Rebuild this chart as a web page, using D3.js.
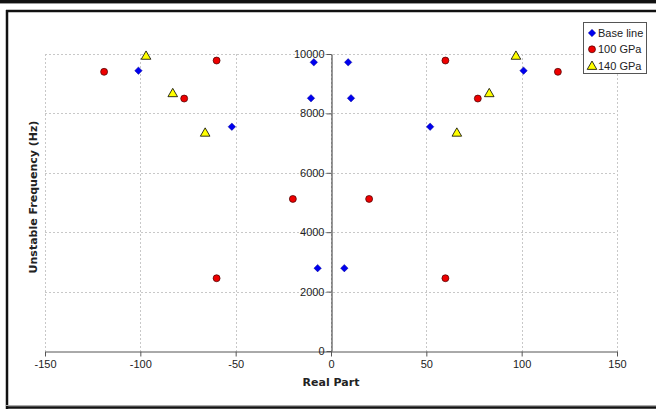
<!DOCTYPE html>
<html><head><meta charset="utf-8">
<script src="https://cdn.jsdelivr.net/npm/d3@7"></script>
<style>body{margin:0;background:#fff}svg{display:block}</style>
</head><body>
<script>
const baseX = [-101, -52, -9, -10.5, 9, 10.5, 52, 101, -7, 7];
const baseY = [9440, 7550, 9720, 8510, 9720, 8510, 7550, 9440, 2790, 2790];
const gpa100X = [-119, -60, -77, -20, 20, 60, 77, 119, -60, 60];
const gpa100Y = [9400, 9780, 8500, 5120, 5120, 9780, 8500, 9400, 2450, 2450];
const gpa140X = [-97, -83, -66, 66, 83, 97];
const gpa140Y = [9950, 8690, 7360, 7360, 8690, 9950];
const xTicks = [-150, -100, -50, 0, 50, 100, 150];
const yTicks = [0, 2000, 4000, 6000, 8000, 10000];
const seriesNames = ["Base line", "100 GPa", "140 GPa"];

const W = 656, H = 410;
const svg = d3.select("body").append("svg").attr("width", W).attr("height", H);

// frame
svg.append("rect").attr("x",0).attr("y",0).attr("width",W).attr("height",3).attr("fill","#111");
svg.append("line").attr("x1",0).attr("x2",W).attr("y1",3.5).attr("y2",3.5).attr("stroke","#999");
svg.append("line").attr("x1",6).attr("x2",W).attr("y1",11).attr("y2",11).attr("stroke","#111").attr("stroke-width",2.5);
svg.append("line").attr("x1",7).attr("x2",7).attr("y1",10).attr("y2",409).attr("stroke","#111").attr("stroke-width",2.5);
svg.append("line").attr("x1",6).attr("x2",W).attr("y1",407.5).attr("y2",407.5).attr("stroke","#111").attr("stroke-width",2.5);
svg.append("line").attr("x1",6).attr("x2",W).attr("y1",405.5).attr("y2",405.5).attr("stroke","#aaa").attr("stroke-width",1);

const x = d3.scaleLinear().domain([-150,150]).range([45,617]);
const y = d3.scaleLinear().domain([0,10000]).range([351,54]);
const fmt = d => String(d);

// grid
const g = svg.append("g");
g.selectAll(".vg").data(xTicks).join("line")
  .attr("x1",d=>Math.round(x(d))+0.5).attr("x2",d=>Math.round(x(d))+0.5)
  .attr("y1",y(10000)).attr("y2",y(0))
  .attr("stroke","#c8c8c8").attr("stroke-dasharray","2,2");
g.selectAll(".hg").data(yTicks.filter(d=>d>0)).join("line")
  .attr("y1",d=>Math.round(y(d))+0.5).attr("y2",d=>Math.round(y(d))+0.5)
  .attr("x1",x(-150)).attr("x2",x(150))
  .attr("stroke","#c8c8c8").attr("stroke-dasharray","2,2");

// axes
const xAxis = svg.append("g").attr("transform",`translate(0,${Math.round(y(0))+0.5})`)
  .call(d3.axisBottom(x).tickValues(xTicks).tickFormat(fmt).tickSize(5).tickSizeOuter(0).tickPadding(4));
const yAxis = svg.append("g").attr("transform",`translate(${Math.round(x(0))+0.5},0)`)
  .call(d3.axisLeft(y).tickValues(yTicks).tickFormat(fmt).tickSize(5).tickSizeOuter(0).tickPadding(2));
[xAxis,yAxis].forEach(a=>{
  a.selectAll("path,line").attr("stroke","#555");
  a.selectAll("text").attr("fill","#222").style("font-family","Liberation Sans, Arial, sans-serif").style("font-size","11px");
});
yAxis.select(".domain").attr("stroke","#333");

// titles
svg.append("text").attr("x",331).attr("y",386).attr("text-anchor","middle")
  .style("font-family","DejaVu Sans, Verdana, sans-serif").style("font-size","11px").style("font-weight","bold")
  .attr("fill","#222").text("Real Part");
svg.append("text").attr("transform","translate(37,197) rotate(-90)").attr("text-anchor","middle")
  .style("font-family","DejaVu Sans, Verdana, sans-serif").style("font-size","11px").style("font-weight","bold")
  .attr("fill","#222").text("Unstable Frequency (Hz)");

const diamond = d3.symbol().type(d3.symbolDiamond2).size(36);
const circle = d3.symbol().type(d3.symbolCircle).size(38);
const tri = d3.symbol().type(d3.symbolTriangle).size(40);

const plot = svg.append("g");
plot.selectAll(".b").data(d3.zip(baseX, baseY)).join("path")
  .attr("transform",d=>`translate(${x(d[0])},${y(d[1])})`).attr("d",diamond)
  .attr("fill","#0000ee").attr("stroke","#000080").attr("stroke-width",0.4);
plot.selectAll(".r").data(d3.zip(gpa100X, gpa100Y)).join("path")
  .attr("transform",d=>`translate(${x(d[0])},${y(d[1])})`).attr("d",circle)
  .attr("fill","#ee0000").attr("stroke","#400000").attr("stroke-width",0.7);
plot.selectAll(".t").data(d3.zip(gpa140X, gpa140Y)).join("path")
  .attr("transform",d=>`translate(${x(d[0])},${y(d[1])+1})`).attr("d",tri)
  .attr("fill","#ffff00").attr("stroke","#000").attr("stroke-width",0.8);

// legend
const lg = svg.append("g");
lg.append("rect").attr("x",583.5).attr("y",22.5).attr("width",63).attr("height",51)
  .attr("fill","#fff").attr("stroke","#555");
const syms = [
  {d:diamond, fill:"#0000ee", stroke:"#000080", sw:0.4},
  {d:circle, fill:"#ee0000", stroke:"#400000", sw:0.7},
  {d:tri, fill:"#ffff00", stroke:"#000", sw:0.8}
];
seriesNames.forEach((n,i)=>{
  const cy = 33 + i*16.3;
  lg.append("path").attr("transform",`translate(592,${cy + (i===2?1:0)})`).attr("d",syms[i].d)
    .attr("fill",syms[i].fill).attr("stroke",syms[i].stroke).attr("stroke-width",syms[i].sw);
  lg.append("text").attr("x",598).attr("y",cy+4).text(n)
    .style("font-family","Liberation Sans, Arial, sans-serif").style("font-size","11px").attr("fill","#222");
});
</script>
</body></html>
